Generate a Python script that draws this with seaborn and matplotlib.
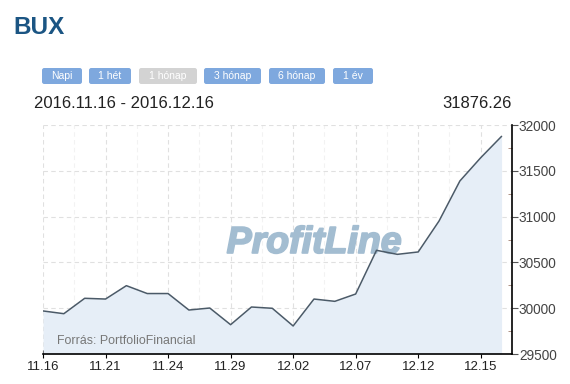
import matplotlib
matplotlib.use("Agg")
import matplotlib.pyplot as plt
from matplotlib.patches import FancyBboxPatch
import matplotlib.patheffects as pe
import seaborn as sns
import pandas as pd
import numpy as np

# ---- data ----
dates = ["11.16", "11.17", "11.18", "11.21", "11.22", "11.23", "11.24", "11.25",
         "11.28", "11.29", "11.30", "12.01", "12.02", "12.05", "12.06", "12.07",
         "12.08", "12.09", "12.12", "12.13", "12.14", "12.15", "12.16"]
values = [29970, 29940, 30108, 30100, 30246, 30160, 30160, 29980,
          30002, 29820, 30013, 29999, 29806, 30100, 30075, 30155,
          30632, 30588, 30614, 30952, 31389, 31643, 31876.26]
tick_labels = ["11.16", "11.21", "11.24", "11.29", "12.02", "12.07", "12.12", "12.15"]
y_ticks = [29500, 30000, 30500, 31000, 31500, 32000]
buttons = ["Napi", "1 hét", "1 hónap", "3 hónap", "6 hónap", "1 év"]
title = "BUX"
date_range = "2016.11.16 - 2016.12.16"
last_value = "31876.26"
source = "Forrás: PortfolioFinancial"
watermark = "ProfitLine"

df = pd.DataFrame({"idx": np.arange(len(dates)), "date": dates, "value": values})

sns.set_theme(style="white")
plt.rcParams["font.family"] = ["Liberation Sans", "DejaVu Sans"]

W, H = 570, 384
fig = plt.figure(figsize=(W / 100, H / 100), dpi=100)
fig.patch.set_facecolor("white")

def fx(px):
    return px / W

def fy(py):
    return 1 - py / H

ax = fig.add_axes([fx(43), fy(354), fx(512) - fx(43), (354 - 125) / H])
ax.set_facecolor("white")

# fill + line
ax.fill_between(df["idx"], df["value"], 29500, color="#e6eef7", zorder=1, linewidth=0)
sns.lineplot(data=df, x="idx", y="value", ax=ax, color="#4b5a68", linewidth=1.1, zorder=4)

ax.set_xlim(0, len(dates) - 1)
ax.set_ylim(29500, 32000)

tick_pos = [dates.index(t) for t in tick_labels]
ax.set_xticks(tick_pos)
ax.set_xticklabels(tick_labels)
ax.set_xticks([p + 1.5 for p in tick_pos[:-1]] + [22.5], minor=True)
ax.set_yticks(y_ticks)
ax.set_yticklabels([str(v) for v in y_ticks])
ax.set_yticks([29750, 30250, 30750, 31250, 31750], minor=True)
ax.yaxis.tick_right()
ax.set_xlabel("")
ax.set_ylabel("")

# grids
ax.grid(True, which="major", color="#e0e0e0", linestyle=(0, (4, 3)), linewidth=0.8, zorder=0)
ax.grid(True, which="minor", axis="x", color="#f2f2f2", linestyle=(0, (4, 3)), linewidth=0.8, zorder=0)
ax.set_axisbelow(True)

for s in ["top", "left"]:
    ax.spines[s].set_visible(False)
for s in ["bottom", "right"]:
    ax.spines[s].set_visible(True)
    ax.spines[s].set_color("black")
    ax.spines[s].set_linewidth(1.2)

ax.tick_params(axis="x", which="major", direction="inout", length=6, width=0.8,
               colors="black", labelsize=9.5, labelcolor="#222222", pad=2, bottom=True)
ax.tick_params(axis="x", which="minor", length=0)
ax.tick_params(axis="y", which="major", direction="out", length=4, width=0.8,
               colors="#555555", labelsize=9.8, labelcolor="#444444", pad=1, right=True, left=False)
ax.tick_params(axis="y", which="minor", direction="in", length=3, width=0.6,
               colors="#a08070", right=True, left=False)

# watermark and source
ax.text(0.578, 0.485, watermark, transform=ax.transAxes, ha="center", va="center",
        fontsize=27, fontweight="bold", fontstyle="italic", color="#a3bdd1", zorder=3,
        path_effects=[pe.Stroke(linewidth=1.3, foreground="#a3bdd1"), pe.Normal()])
ax.text(0.03, 0.055, source, transform=ax.transAxes, ha="left", va="center",
        fontsize=8.9, color="#777777", zorder=5)

# title and header texts
fig.text(fx(13), fy(28), title, ha="left", va="center", fontsize=17.5,
         fontweight="bold", color="#1b5583")
fig.text(fx(34), fy(104), date_range, ha="left", va="center", fontsize=12, color="#222222")
fig.text(fx(512), fy(104), last_value, ha="right", va="center", fontsize=12, color="#222222")

# buttons
btn_x = [(42, 82), (89, 131), (139, 197), (204, 261), (269, 325), (333, 373)]
for label, (x0, x1) in zip(buttons, btn_x):
    disabled = label == "1 hónap"
    fc = "#d3d3d3" if disabled else "#7ea8de"
    box = FancyBboxPatch((fx(x0), fy(84)), fx(x1) - fx(x0), (84 - 68) / H,
                         boxstyle="round,pad=0,rounding_size=0.004",
                         transform=fig.transFigure, facecolor=fc, edgecolor="none",
                         mutation_aspect=W / H)
    fig.patches.append(box)
    fig.text(fx((x0 + x1) / 2), fy(76), label, ha="center", va="center",
             fontsize=7.5, color="white")

fig.savefig("out.png", dpi=100, facecolor="white")
